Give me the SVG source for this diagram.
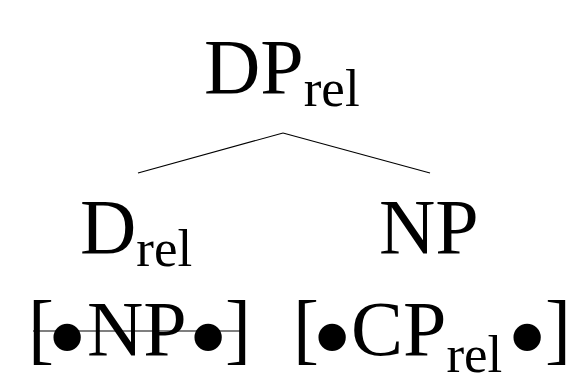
<svg xmlns="http://www.w3.org/2000/svg" width="567" height="380" viewBox="0 0 567 380">
  <style>
    .lbl { font-family: "Liberation Serif", "Times New Roman", serif; font-size: 78px; fill: #000; }
    .sub { font-size: 53px; }
    .dot { font-family: "Liberation Serif", "Times New Roman", serif; font-size: 115px; fill: #000; }
    .edge { stroke: #000; stroke-width: 1.2; fill: none; }
  </style>
  <rect width="567" height="380" fill="#fff"/>
  <g id="connectors">
    <line class="edge" x1="283" y1="133" x2="138" y2="173"/>
    <line class="edge" x1="283" y1="133" x2="430" y2="173"/>
  </g>
  <g id="node-dp">
    <text class="lbl" x="204" y="93">DP<tspan class="sub" dy="13">rel</tspan></text>
  </g>
  <g id="node-d">
    <text class="lbl" x="80" y="253">D<tspan class="sub" dy="13">rel</tspan></text>
    <!-- feature bundle, struck out -->
    <text class="lbl" x="28" y="355">[</text>
    <text class="dot" x="47" y="375">•</text>
    <text class="lbl" x="87" y="355">NP</text>
    <text class="dot" x="188" y="375">•</text>
    <text class="lbl" x="225" y="355">]</text>
    <line class="edge" x1="33" y1="331" x2="242" y2="331"/>
  </g>
  <g id="node-np">
    <text class="lbl" x="379" y="253">NP</text>
    <text class="lbl" x="293" y="355">[</text>
    <text class="dot" x="312" y="375">•</text>
    <text class="lbl" x="351" y="355">CP<tspan class="sub" dy="17">rel</tspan></text>
    <text class="dot" x="507" y="375">•</text>
    <text class="lbl" x="545" y="355">]</text>
  </g>
</svg>
